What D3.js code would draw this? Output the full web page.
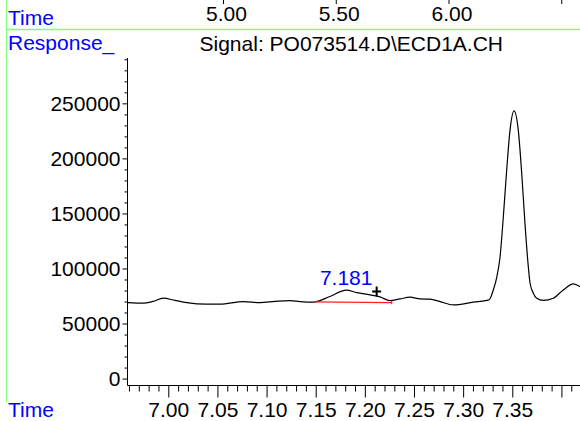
<!DOCTYPE html>
<html>
<head>
<meta charset="utf-8">
<script src="https://cdn.jsdelivr.net/npm/d3@7/dist/d3.min.js"></script>
<style>
  html, body { margin: 0; padding: 0; background: #fff; }
  svg { display: block; }
  text { font-family: "Liberation Sans", Arial, sans-serif; }
</style>
</head>
<body>
<svg id="chart" width="580" height="421"></svg>
<script>
// Chromatogram trace: retention time (min) and detector response
const times = [
  6.959, 6.9746, 6.9844, 6.9949, 7.0068, 7.0187, 7.0391, 7.0526, 7.0763, 7.0933,
  7.1086, 7.1238, 7.134, 7.1475, 7.1645, 7.181, 7.1917, 7.2052, 7.2154, 7.2256,
  7.2357, 7.2459, 7.2561, 7.2663, 7.2765, 7.29, 7.3103, 7.3256, 7.3273, 7.3307,
  7.3342, 7.3375, 7.3409, 7.3443, 7.3477, 7.3518, 7.3561, 7.3596, 7.3629, 7.3663,
  7.3681, 7.3714, 7.3748, 7.3816, 7.3917, 7.4019, 7.4121, 7.4189
];
const responses = [
  69000, 68500, 70100, 73000, 71000, 69000, 67600, 67600, 69900, 69000,
  70100, 70800, 69900, 69400, 74500, 80300, 78100, 76000, 74200, 70800,
  72400, 73900, 72400, 72100, 69900, 66900, 69400, 71200, 72500, 80500,
  92000, 110000, 147000, 189400, 225700, 243200, 225700, 186400, 141000, 101700,
  86600, 77600, 73000, 71000, 73000, 80500, 86000, 83500
];

// Integrated peak: label, integration baseline and marker
const peakLabel = "7.181";
const peakTime = 7.181;
const peakTop = 80300;
const baselineTimes = [7.1493, 7.2273];
const baselineValues = [69660, 68930];
const markerTime = 7.212;
const markerValue = 79000;

// Axis ticks
const xMajorTicks = [7.00, 7.05, 7.10, 7.15, 7.20, 7.25, 7.30, 7.35, 7.40];
const xLabels = ["7.00", "7.05", "7.10", "7.15", "7.20", "7.25", "7.30", "7.35", ""];
const yMajorTicks = [0, 50000, 100000, 150000, 200000, 250000];
const yLabels = ["0", "50000", "100000", "150000", "200000", "250000"];
const topTicks = [5.0, 5.5, 6.0, 6.5];
const topLabels = ["5.00", "5.50", "6.00", ""];

const signalTitle = "Signal: PO073514.D\\ECD1A.CH";

const svg = d3.select("#chart");
const W = 580, H = 421;
const plotLeft = 127.5, plotRight = 580, plotTop = 58, plotBottom = 385.5;
const FONT = 21;

const x = d3.scaleLinear().domain([6.9585, 7.4189]).range([plotLeft, plotRight]);
const y = d3.scaleLinear().domain([-6300, 291200]).range([plotBottom, plotTop]);
const xTop = d3.scaleLinear().domain([5.0, 6.0]).range([226.5, 452]);

// Frame lines (light green)
const green = "#80ff80";
svg.append("line").attr("x1", 6.5).attr("x2", 6.5).attr("y1", 0).attr("y2", 402)
  .attr("stroke", green).attr("stroke-width", 1);
svg.append("line").attr("x1", 6.5).attr("x2", W).attr("y1", 29.5).attr("y2", 29.5)
  .attr("stroke", green).attr("stroke-width", 1.3);

// Header texts
svg.append("text").attr("x", 8).attr("y", 25).attr("fill", "#0000ff")
  .attr("font-size", FONT).text("Time");
svg.append("text").attr("x", 8).attr("y", 50).attr("fill", "#0000ff")
  .attr("font-size", FONT).text("Response_");
svg.append("text").attr("x", 8).attr("y", 416.5).attr("fill", "#0000ff")
  .attr("font-size", FONT).text("Time");
svg.append("text").attr("x", 199.5).attr("y", 50.5).attr("fill", "#000")
  .attr("font-size", FONT).text(signalTitle);

// Top time axis (continuation of previous panel)
const topG = svg.append("g");
topTicks.forEach((t, i) => {
  topG.append("line").attr("x1", xTop(t) - 3).attr("x2", xTop(t) - 3)
    .attr("y1", 0).attr("y2", 4).attr("stroke", "#000");
  if (topLabels[i]) {
    topG.append("text").attr("x", xTop(t)).attr("y", 20.7)
      .attr("text-anchor", "middle").attr("font-size", FONT).text(topLabels[i]);
  }
});

// Y axis
const yMinor = d3.range(0, 291000, 10000).filter(v => v % 50000 !== 0);
svg.append("g").attr("transform", `translate(${plotLeft},0)`)
  .call(d3.axisLeft(y).tickValues(yMinor).tickSize(3).tickFormat("").tickSizeOuter(0))
  .call(g => g.select(".domain").remove());
const yAxisG = svg.append("g").attr("transform", `translate(${plotLeft},0)`)
  .call(d3.axisLeft(y).tickValues(yMajorTicks).tickSize(5).tickPadding(2)
    .tickFormat((d, i) => yLabels[i]).tickSizeOuter(0));
yAxisG.selectAll("text").attr("font-size", FONT).attr("fill", "#000");
yAxisG.attr("font-family", null);
yAxisG.select(".domain").attr("d", `M0,${plotTop}V${plotBottom}`);

// X axis
const xMinor = d3.range(6.96, 7.415, 0.01).filter(t => Math.abs(Math.round(t * 20) - t * 20) > 1e-6);
svg.append("g").attr("transform", `translate(0,${plotBottom})`)
  .call(d3.axisBottom(x).tickValues(xMinor).tickSize(6).tickFormat("").tickSizeOuter(0))
  .call(g => g.select(".domain").remove());
const xAxisG = svg.append("g").attr("transform", `translate(0,${plotBottom})`)
  .call(d3.axisBottom(x).tickValues(xMajorTicks).tickSize(12).tickPadding(5)
    .tickFormat((d, i) => xLabels[i]).tickSizeOuter(0));
xAxisG.selectAll("text").attr("font-size", FONT).attr("fill", "#000");
xAxisG.attr("font-family", null);
xAxisG.select(".domain").attr("d", `M${plotLeft},0H${plotRight}`);

// Trace
svg.append("clipPath").attr("id", "plot-clip").append("rect")
  .attr("x", plotLeft).attr("y", 0).attr("width", plotRight - plotLeft).attr("height", plotBottom);
const pts = times.map((t, i) => [t, responses[i]]);
svg.append("path").datum(pts)
  .attr("clip-path", "url(#plot-clip)")
  .attr("fill", "none").attr("stroke", "#000").attr("stroke-width", 1.2)
  .attr("d", d3.line().x(d => x(d[0])).y(d => y(d[1])).curve(d3.curveMonotoneX));

// Integration baseline (red)
svg.append("line")
  .attr("x1", x(baselineTimes[0])).attr("y1", y(baselineValues[0]))
  .attr("x2", x(baselineTimes[1])).attr("y2", y(baselineValues[1]))
  .attr("stroke", "#ff2020").attr("stroke-width", 1.3);
svg.append("line")
  .attr("x1", x(baselineTimes[1])).attr("x2", x(baselineTimes[1]))
  .attr("y1", y(baselineValues[1]) - 2).attr("y2", y(baselineValues[1]) + 1.5)
  .attr("stroke", "#ff2020").attr("stroke-width", 1.2);

// Peak label
svg.append("text").attr("x", x(peakTime)).attr("y", y(peakTop) - 5.5)
  .attr("text-anchor", "middle").attr("fill", "#0000ff")
  .attr("font-size", FONT).text(peakLabel);

// Marker "+"
const mx = x(markerTime), my = y(markerValue);
svg.append("path")
  .attr("d", `M${mx - 4.5},${my}H${mx + 4.5}M${mx},${my - 5}V${my + 5}`)
  .attr("stroke", "#000").attr("stroke-width", 2).attr("fill", "none");
</script>
</body>
</html>
